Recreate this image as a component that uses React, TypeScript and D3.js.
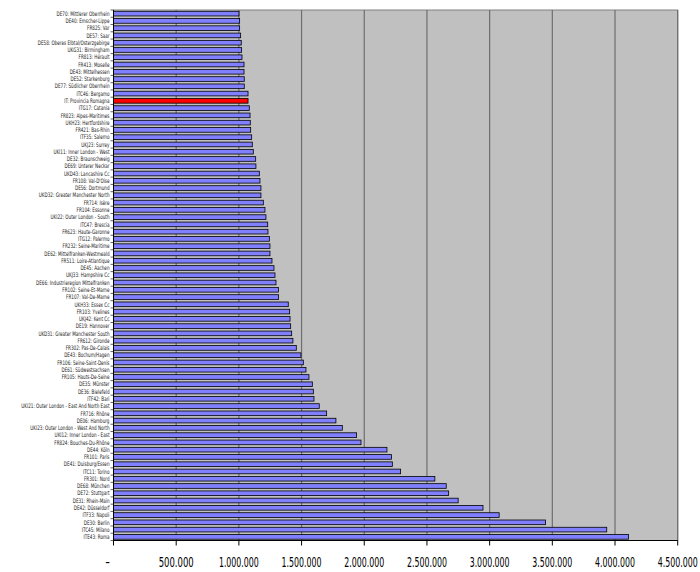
import { useEffect, useRef } from 'react'
import * as d3 from 'd3'

const CATEGORIES = [
  'DE70: Mittlerer Oberrhein', 'DE40: Emscher-Lippe', 'FR825: Var', 'DE57: Saar',
  'DE58: Oberes Elbtal/Osterzgebirge', 'UKG31: Birmingham', 'FR813: Hérault', 'FR413: Moselle',
  'DE43: Mittelhessen', 'DE52: Starkenburg', 'DE77: Südlicher Oberrhein', 'ITC46: Bergamo',
  'IT: Provincia Romagna', 'ITG17: Catania', 'FR823: Alpes-Maritimes', 'UKH23: Hertfordshire',
  'FR421: Bas-Rhin', 'ITF35: Salerno', 'UKJ23: Surrey', 'UKI11: Inner London - West',
  'DE32: Braunschweig', 'DE69: Unterer Neckar', 'UKD43: Lancashire Cc', "FR108: Val-D'Oise",
  'DE56: Dortmund', 'UKD32: Greater Manchester North', 'FR714: Isère', 'FR104: Essonne',
  'UKI22: Outer London - South', 'ITC47: Brescia', 'FR623: Haute-Garonne', 'ITG12: Palermo',
  'FR232: Seine-Maritime', 'DE62: Mittelfranken-Westmeald', 'FR511: Loire-Atlantique', 'DE45: Aachen',
  'UKJ33: Hampshire Cc', 'DE66: Industrieregion Mittelfranken', 'FR102: Seine-Et-Marne', 'FR107: Val-De-Marne',
  'UKH33: Essex Cc', 'FR103: Yvelines', 'UKJ42: Kent Cc', 'DE19: Hannover',
  'UKD31: Greater Manchester South', 'FR612: Gironde', 'FR302: Pas-De-Calais', 'DE43: Bochum/Hagen',
  'FR106: Seine-Saint-Denis', 'DE61: Südwestsachsen', 'FR105: Hauts-De-Seine', 'DE35: Münster',
  'DE36: Bielefeld', 'ITF42: Bari', 'UKI21: Outer London - East And North East', 'FR716: Rhône',
  'DE06: Hamburg', 'UKI23: Outer London - West And North', 'UKI12: Inner London - East', 'FR824: Bouches-Du-Rhône',
  'DE44: Köln', 'FR101: Paris', 'DE41: Duisburg/Essen', 'ITC11: Torino',
  'FR301: Nord', 'DE68: München', 'DE72: Stuttgart', 'DE31: Rhein-Main',
  'DE42: Düsseldorf', 'ITF33: Napoli', 'DE30: Berlin', 'ITC45: Milano',
  'ITE43: Roma',
]

const VALUES = [
  1001000, 1006000, 1006000, 1014000, 1019000, 1022000, 1025000, 1041000,
  1041000, 1043000, 1043000, 1073000, 1073000, 1083000, 1089000, 1091000,
  1094000, 1102000, 1107000, 1115000, 1134000, 1136000, 1163000, 1168000,
  1176000, 1176000, 1195000, 1208000, 1216000, 1230000, 1232000, 1243000,
  1248000, 1248000, 1264000, 1280000, 1288000, 1296000, 1315000, 1317000,
  1394000, 1405000, 1408000, 1413000, 1421000, 1431000, 1458000, 1495000,
  1514000, 1535000, 1559000, 1586000, 1594000, 1599000, 1641000, 1700000,
  1774000, 1825000, 1939000, 1974000, 2181000, 2218000, 2224000, 2290000,
  2563000, 2654000, 2673000, 2749000, 2947000, 3076000, 3446000, 3934000,
  4108000,
]

const HIGHLIGHT = 'IT: Provincia Romagna'

const TICKS = [0, 500000, 1000000, 1500000, 2000000, 2500000, 3000000, 3500000, 4000000, 4500000]

const W = 700
const H = 572
const FONT = '"Liberation Sans Narrow", "Arial Narrow", "DejaVu Sans Condensed", sans-serif'

const itFormat = d3.formatLocale({ decimal: ',', thousands: '.', grouping: [3], currency: ['', ''] }).format(',.0f')

export default function App() {
  const ref = useRef<SVGSVGElement>(null)

  useEffect(() => {
    if (!ref.current) return
    d3.select(ref.current).selectAll('*').remove()
    render(ref.current)
  }, [])

  return (
    <svg
      ref={ref}
      width={W}
      height={H}
      style={{ position: 'absolute', left: 0, top: 0, display: 'block', background: '#fff' }}
    />
  )
}

function render(el: SVGSVGElement) {
  const plot = { left: 113.5, right: 677.7, top: 10, bottom: 540.5 }
  const svg = d3.select(el).style('font-family', FONT)

  const x = d3.scaleLinear().domain([0, 4500000]).range([plot.left, plot.right])
  const y = d3
    .scaleBand<string>()
    .domain(CATEGORIES)
    .range([plot.top, plot.bottom])
    .paddingInner(0.36)
    .paddingOuter(0.18)

  // Plot background
  svg.append('rect')
    .attr('x', plot.left)
    .attr('y', plot.top)
    .attr('width', plot.right - plot.left)
    .attr('height', plot.bottom - plot.top)
    .attr('fill', '#c0c0c0')
    .attr('stroke', '#808080')
    .attr('stroke-width', 1)

  // Grid
  svg.append('g')
    .selectAll('line')
    .data(TICKS.slice(1))
    .join('line')
    .attr('x1', (d) => x(d))
    .attr('x2', (d) => x(d))
    .attr('y1', plot.top)
    .attr('y2', plot.bottom)
    .attr('stroke', '#6e6e6e')
    .attr('stroke-width', 1.2)

  // Bars
  svg.append('g')
    .selectAll('rect')
    .data(CATEGORIES.map((c, i) => ({ c, v: VALUES[i] })))
    .join('rect')
    .attr('x', x(0))
    .attr('y', (d) => y(d.c)!)
    .attr('width', (d) => x(d.v) - x(0))
    .attr('height', y.bandwidth())
    .attr('fill', (d) => (d.c === HIGHLIGHT ? '#ff0000' : '#8080ff'))
    .attr('stroke', '#000')
    .attr('stroke-width', 0.8)

  // Category axis
  const left = svg.append('g')
  left.append('line')
    .attr('x1', plot.left)
    .attr('x2', plot.left)
    .attr('y1', plot.top)
    .attr('y2', plot.bottom)
    .attr('stroke', '#000')
  d3.range(CATEGORIES.length + 1).forEach((i) => {
    const yy = plot.top + (plot.bottom - plot.top) * (i / CATEGORIES.length)
    left.append('line')
      .attr('x1', plot.left - 3)
      .attr('x2', plot.left)
      .attr('y1', yy)
      .attr('y2', yy)
      .attr('stroke', '#000')
      .attr('stroke-width', 0.6)
  })
  left.selectAll('text')
    .data(CATEGORIES)
    .join('text')
    .attr('transform', (d) => `translate(${plot.left - 4},${y(d)! + y.bandwidth() / 2}) scale(0.74,1)`)
    .attr('dy', '0.35em')
    .attr('text-anchor', 'end')
    .attr('font-size', 6.2)
    .attr('fill', '#222')
    .text((d) => d)

  // Value axis
  const bottom = svg.append('g')
  bottom.append('line')
    .attr('x1', plot.left)
    .attr('x2', plot.right)
    .attr('y1', plot.bottom)
    .attr('y2', plot.bottom)
    .attr('stroke', '#000')
  bottom.selectAll('line.tick')
    .data(TICKS)
    .join('line')
    .attr('class', 'tick')
    .attr('x1', (d) => x(d))
    .attr('x2', (d) => x(d))
    .attr('y1', plot.bottom)
    .attr('y2', plot.bottom + 5)
    .attr('stroke', '#000')
  bottom.selectAll('text')
    .data(TICKS)
    .join('text')
    .attr('x', (d) => (d === 0 ? x(d) - 6 : x(d)))
    .attr('y', 567)
    .attr('text-anchor', 'middle')
    .attr('font-size', 14.5)
    .attr('fill', '#000')
    .attr('textLength', (d) => (d === 0 ? null : itFormat(d).length > 7 ? 40 : 35))
    .attr('lengthAdjust', 'spacingAndGlyphs')
    .text((d) => (d === 0 ? '-' : itFormat(d)))
}
